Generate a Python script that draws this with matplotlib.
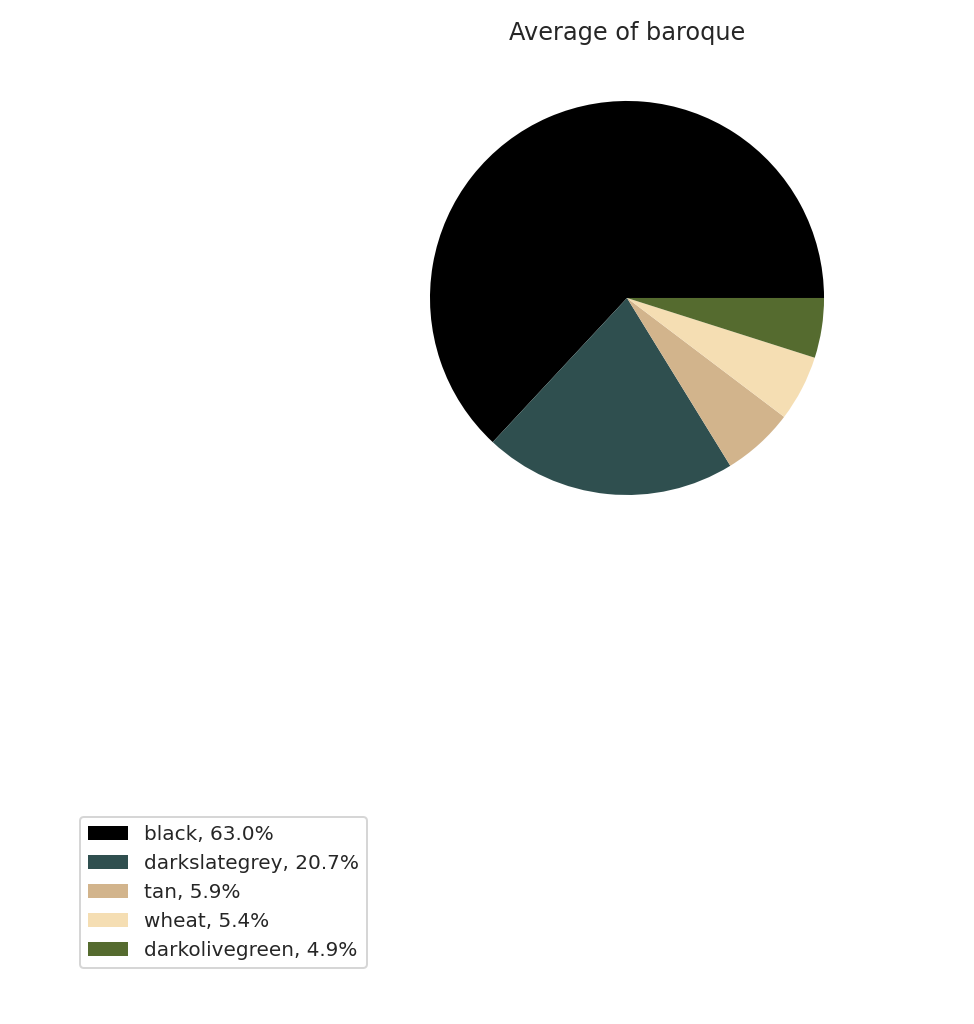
import matplotlib
matplotlib.use('Agg')
import matplotlib.pyplot as plt

# colours of the baroque palette and their average share
names = ['black', 'darkslategrey', 'tan', 'wheat', 'darkolivegreen']
shares = [63.0, 20.7, 5.9, 5.4, 4.9]

plt.rcParams['text.color'] = '0.15'
plt.rcParams['font.size'] = 10

fig = plt.figure(figsize=(974 / 144, 1024 / 144), dpi=144)
ax = fig.add_axes([0.3909, 0.4685, 0.5057, 0.481])

wedges, _ = ax.pie(shares, colors=names, startangle=0, counterclock=True)
ax.set_title('Average of baroque')

labels = ['%s, %.1f%%' % (n, s) for n, s in zip(names, shares)]
fig.legend(wedges, labels, loc='lower left',
           bbox_to_anchor=(80 / 974, 1 - 968 / 1024), borderaxespad=0)

fig.savefig('out.png', dpi=144)
